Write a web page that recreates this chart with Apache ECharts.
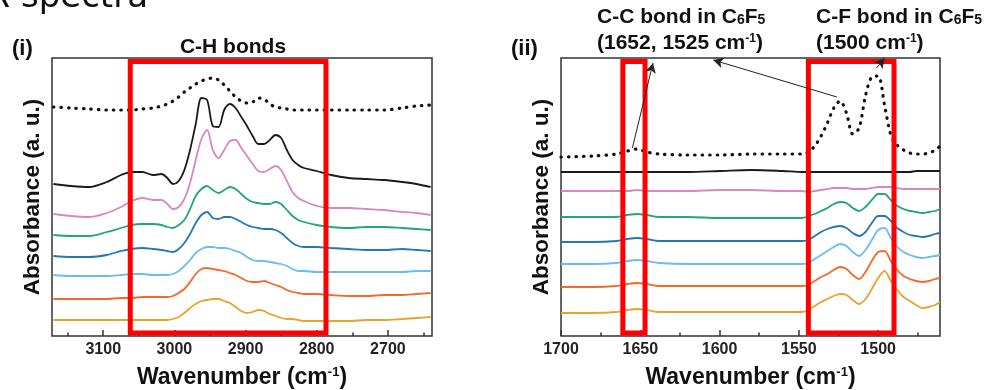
<!DOCTYPE html>
<html>
<head>
<meta charset="utf-8">
<script src="https://cdn.jsdelivr.net/npm/echarts@6/dist/echarts.min.js"></script>
<style>
  html, body { margin: 0; padding: 0; background: #fff; }
  #chart { width: 987px; height: 390px; }
</style>
</head>
<body>
<div id="chart"></div>
<script>
// wavenumbers (cm-1) sampled for each panel
const waveL = [3170, 3145, 3120, 3095, 3075, 3060, 3045, 3030, 3018,
  3010, 3002, 2994, 2986, 2978, 2970, 2962, 2954, 2946, 2938, 2930, 2922, 2914, 2906, 2898, 2890, 2882, 2874, 2866, 2858, 2850, 2842, 2834, 2826, 2818,
  2800, 2780, 2755, 2730, 2705, 2680, 2660, 2640];
const waveR = [1700, 1680, 1665, 1658, 1652, 1646, 1638, 1620, 1600, 1580, 1560,
  1548, 1544, 1540, 1536, 1532, 1528, 1524, 1520, 1516, 1512, 1508, 1504, 1500, 1496, 1492, 1488, 1484, 1480, 1476, 1472, 1468, 1464, 1461];

// absorbance, stacked with offsets (arbitrary units)
const refL    = [229, 228, 227, 226, 226, 226, 227, 228, 230, 232, 235, 239, 244, 248, 252, 255, 257, 258, 256, 251, 245, 239, 235, 233, 234, 238, 237, 232, 229, 228, 227, 226, 226, 226, 226, 226, 226, 226, 226, 228, 230, 231];
const blackL  = [152, 150, 149, 154, 161, 164, 164, 161, 162, 158, 152, 155, 166, 186, 212, 238, 236, 210, 209, 226, 232, 228, 219, 210, 200, 192, 192, 196, 201, 198, 186, 176, 171, 168, 165, 161, 158, 157, 156, 154, 152, 149];
const pinkL   = [122, 120, 119, 123, 129, 135, 138, 136, 136, 132, 127, 129, 137, 153, 176, 197, 206, 186, 178, 186, 195, 196, 188, 180, 172, 165, 164, 167, 170, 166, 155, 144, 138, 135, 130, 128, 128, 127, 126, 124, 123, 121];
const greenL  = [101, 100, 100, 104, 108, 111, 112, 112, 111, 109, 108, 111, 116, 127, 140, 147, 150, 146, 143, 146, 149, 147, 142, 137, 134, 133, 132, 132, 134, 132, 126, 120, 116, 114, 111, 109, 108, 109, 109, 108, 107, 106];
const blueL   = [80, 79, 79, 81, 85, 87, 88, 87, 86, 85, 84, 87, 93, 102, 113, 121, 124, 118, 117, 119, 119, 117, 114, 111, 109, 108, 107, 107, 106, 103, 98, 93, 90, 89, 89, 88, 87, 86, 86, 87, 86, 85];
const skyL    = [61, 60, 60, 60, 61, 62, 62, 61, 61, 61, 62, 65, 70, 76, 83, 87, 89, 89, 88, 88, 87, 85, 83, 79, 76, 75, 75, 74, 73, 72, 70, 67, 65, 65, 64, 64, 64, 64, 64, 64, 65, 65];
const orangeL = [37, 37, 37, 37, 38, 38, 39, 39, 39, 39, 40, 43, 47, 54, 62, 67, 68, 67, 66, 65, 63, 61, 58, 55, 54, 54, 55, 53, 51, 49, 46, 44, 43, 42, 42, 41, 40, 40, 41, 41, 42, 43];
const yellowL = [16, 16, 16, 16, 16, 16, 16, 16, 16, 16, 17, 19, 23, 28, 32, 35, 36, 37, 37, 35, 33, 29, 25, 23, 24, 26, 25, 22, 20, 18, 17, 17, 16, 15, 15, 15, 15, 16, 16, 17, 18, 19];

const refR    = [179, 180, 182, 185, 187, 184, 182, 181, 181, 182, 182, 182, 184, 190, 200, 213, 228, 235, 223, 202, 208, 240, 259, 260, 231, 201, 191, 186, 183, 182, 182, 183, 186, 190];
const blackR  = [164, 164, 164, 164, 164, 164, 164, 164, 165, 166, 165, 164, 164, 164, 164, 164, 164, 164, 164, 164, 164, 164, 164, 164, 164, 164, 164, 164, 164, 165, 165, 165, 165, 165];
const pinkR   = [145, 145, 145, 145, 146, 145, 145, 145, 146, 146, 145, 145, 144, 145, 146, 147, 148, 148, 148, 147, 147, 147, 148, 149, 149, 149, 148, 147, 147, 147, 147, 147, 147, 147];
const greenR  = [119, 119, 119, 121, 122, 121, 119, 119, 118, 118, 118, 118, 120, 122, 125, 128, 132, 134, 133, 128, 125, 129, 136, 142, 142, 136, 130, 127, 125, 124, 123, 124, 125, 127];
const blueR   = [94, 94, 95, 97, 98, 97, 95, 95, 95, 95, 95, 95, 96, 100, 104, 107, 109, 110, 108, 103, 100, 104, 113, 120, 120, 115, 108, 104, 101, 100, 99, 100, 102, 103];
const skyR    = [72, 72, 73, 75, 76, 75, 73, 72, 72, 72, 72, 72, 73, 77, 81, 85, 89, 92, 90, 84, 80, 86, 96, 106, 108, 98, 89, 84, 81, 79, 78, 79, 80, 81];
const orangeR = [49, 49, 50, 52, 53, 52, 50, 50, 50, 50, 50, 50, 51, 55, 59, 62, 66, 69, 67, 61, 57, 64, 75, 84, 85, 75, 66, 60, 57, 55, 54, 55, 57, 58];
const yellowR = [23, 23, 24, 26, 27, 26, 24, 24, 24, 24, 24, 24, 26, 30, 34, 37, 40, 42, 41, 36, 32, 37, 47, 58, 65, 55, 46, 39, 35, 31, 28, 29, 31, 34];

const majorL = [3100, 3000, 2900, 2800, 2700];
const minorL = [3150, 3050, 2950, 2850, 2750, 2650];
const majorR = [1700, 1650, 1600, 1550, 1500];
const minorR = [1675, 1625, 1575, 1525, 1475];

// highlighted bands [from, to] in wavenumber
const boxesL = [[3062, 2787]];
const boxesR = [[1661, 1647], [1544, 1490]];
// annotation arrows: [wave, abs] -> [wave, abs]
const arrowsR = [
  [[1655, 188], [1642, 273]],
  [[1526, 239], [1604, 276]],
  [[1501, 268], [1496, 278]]
];

const colors = ['#1a1a1a', '#d887c0', '#1fa77a', '#2277b8', '#6cbcf0', '#f5692a', '#eaa22a'];
const FONT = '"Liberation Sans", Arial, sans-serif';

const chart = echarts.init(document.getElementById('chart'));

function curve(waves, vals, color, idx, dotted) {
  return {
    type: 'line',
    xAxisIndex: idx === 0 ? 0 : 2,
    yAxisIndex: idx,
    data: vals.map((v, i) => [waves[i], v]),
    smooth: 0.3,
    showSymbol: false,
    silent: true,
    lineStyle: dotted
      ? { color: '#111', width: 3.2, type: [0.5, 7], cap: 'round' }
      : { color: color, width: 1.8 },
    z: 3
  };
}

function boxSeries(boxes, idx) {
  return {
    type: 'line',
    xAxisIndex: idx === 0 ? 0 : 2,
    yAxisIndex: idx,
    data: [],
    silent: true,
    clip: false,
    markArea: {
      silent: true,
      z: 10,
      itemStyle: { color: 'rgba(0,0,0,0)', borderColor: '#ff0000', borderWidth: 5 },
      data: boxes.map(b => [{ xAxis: b[0], yAxis: 274.5 }, { xAxis: b[1], yAxis: 3 }])
    }
  };
}

const xName = {
  fontFamily: FONT, fontWeight: 'bold', fontSize: 23, color: '#111',
  rich: { s: { fontFamily: FONT, fontWeight: 'bold', fontSize: 13, color: '#111', verticalAlign: 'top' } }
};

function mainX(grid, min, max, labels) {
  return {
    type: 'value', gridIndex: grid, min: min, max: max, inverse: true,
    axisLine: { show: false },
    splitLine: { show: false },
    axisTick: { show: true, inside: true, length: 6, customValues: labels, lineStyle: { color: '#333', width: 1.5 } },
    axisLabel: {
      customValues: labels, margin: 6, fontFamily: FONT, fontWeight: 'bold', fontSize: 16, color: '#222',
      formatter: v => String(v)
    },
    name: 'Wavenumber (cm{s|-1})',
    nameLocation: 'middle',
    nameGap: 30,
    nameTextStyle: xName
  };
}

function minorX(grid, min, max, ticks) {
  return {
    type: 'value', gridIndex: grid, min: min, max: max, inverse: true, position: 'bottom',
    axisLine: { show: false },
    splitLine: { show: false },
    axisLabel: { show: false },
    axisTick: { show: true, inside: true, length: 3.5, customValues: ticks, lineStyle: { color: '#333', width: 1.5 } }
  };
}

function yAx(grid) {
  return {
    type: 'value', gridIndex: grid, min: 0, max: 278,
    axisLine: { show: false }, axisTick: { show: false }, axisLabel: { show: false }, splitLine: { show: false },
    name: 'Absorbance (a. u.)',
    nameLocation: 'middle',
    nameGap: 8,
    nameTextStyle: { fontFamily: FONT, fontWeight: 'bold', fontSize: 22.5, color: '#111' }
  };
}

const txt = (text, x, y, size, align, extra) => ({
  type: 'text',
  x: x, y: y,
  silent: true,
  style: Object.assign({
    text: text,
    fontFamily: FONT, fontWeight: 'bold', fontSize: size,
    fill: '#111',
    align: align, textAlign: align,
    verticalAlign: 'middle', textVerticalAlign: 'middle',
    rich: {
      sb: { fontFamily: FONT, fontWeight: 'bold', fontSize: 14, fill: '#111', verticalAlign: 'bottom' },
      sp: { fontFamily: FONT, fontWeight: 'bold', fontSize: 12, fill: '#111', verticalAlign: 'top' }
    }
  }, extra || {})
});

const series = [
  curve(waveL, refL, '#111', 0, true),
  curve(waveL, blackL, colors[0], 0),
  curve(waveL, pinkL, colors[1], 0),
  curve(waveL, greenL, colors[2], 0),
  curve(waveL, blueL, colors[3], 0),
  curve(waveL, skyL, colors[4], 0),
  curve(waveL, orangeL, colors[5], 0),
  curve(waveL, yellowL, colors[6], 0),
  curve(waveR, refR, '#111', 1, true),
  curve(waveR, blackR, colors[0], 1),
  curve(waveR, pinkR, colors[1], 1),
  curve(waveR, greenR, colors[2], 1),
  curve(waveR, blueR, colors[3], 1),
  curve(waveR, skyR, colors[4], 1),
  curve(waveR, orangeR, colors[5], 1),
  curve(waveR, yellowR, colors[6], 1),
  boxSeries(boxesL, 0),
  boxSeries(boxesR, 1),
  {
    type: 'line', xAxisIndex: 2, yAxisIndex: 1, data: [], silent: true, clip: false,
    markLine: {
      silent: true,
      z: 11,
      symbol: ['none', 'arrow'],
      symbolSize: [8, 10],
      label: { show: false },
      lineStyle: { color: '#222', width: 1, type: 'solid' },
      data: arrowsR.map(a => [{ coord: a[0] }, { coord: a[1] }])
    }
  }
];

chart.setOption({
  animation: false,
  backgroundColor: '#fff',
  grid: [
    { left: 52, top: 58, width: 380, height: 278, show: true, borderColor: '#333', borderWidth: 1.5, outerBoundsMode: 'none', containLabel: false },
    { left: 561, top: 58, width: 379, height: 278, show: true, borderColor: '#333', borderWidth: 1.5, outerBoundsMode: 'none', containLabel: false }
  ],
  xAxis: [
    mainX(0, 2638, 3172, majorL),
    minorX(0, 2638, 3172, minorL),
    mainX(1, 1461, 1700, majorR),
    minorX(1, 1461, 1700, minorR)
  ],
  yAxis: [yAx(0), yAx(1)],
  graphic: [
    txt('IR spectra', 148, 15, 34, 'right', { fontFamily: '"DejaVu Sans", sans-serif', fontWeight: 'normal', verticalAlign: 'bottom', textVerticalAlign: 'bottom' }),
    txt('(i)', 12, 49, 22, 'left'),
    txt('C-H bonds', 233, 47, 21, 'center'),
    txt('(ii)', 511, 49, 22, 'left'),
    txt('C-C bond in C{sb|6}F{sb|5}', 597, 17, 21, 'left'),
    txt('(1652, 1525 cm{sp|-1})', 597, 43, 21, 'left'),
    txt('C-F bond in C{sb|6}F{sb|5}', 816, 17, 21, 'left'),
    txt('(1500 cm{sp|-1})', 816, 43, 21, 'left')
  ],
  series: series
});
</script>
</body>
</html>
